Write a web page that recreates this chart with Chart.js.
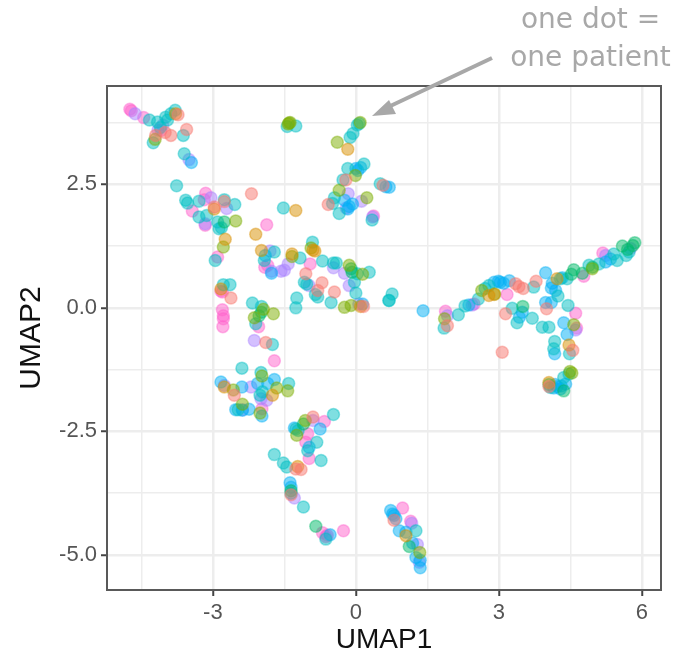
<!DOCTYPE html>
<html>
<head>
<meta charset="utf-8">
<title>UMAP</title>
<script src="https://cdn.jsdelivr.net/npm/chart.js@4"></script>
<style>
    html, body { margin: 0; padding: 0; background: #fff; }
    #wrap { position: relative; width: 679px; height: 657px; overflow: hidden; }
    #note { position: absolute; top: 0; left: 491px; width: 199px; text-align: center; color: #a8a8a8; white-space: nowrap;
            font-family: "DejaVu Sans", sans-serif; font-size: 28px; line-height: 38px; }
    #arrow { position: absolute; left: 0; top: 0; }
</style>
</head>
<body>
<div id="wrap">
    <canvas id="umapChart" width="679" height="657"></canvas>
    <svg id="arrow" width="679" height="657">
        <line x1="492" y1="58" x2="384" y2="109" stroke="#a8a8a8" stroke-width="4"/>
        <polygon points="372,116 389,100 396,114" fill="#a8a8a8"/>
    </svg>
    <div id="note">one dot =<br>one patient</div>
</div>
<script>
// Points are [UMAP1, UMAP2], one list per colour group
const salmonPoints = [[-3.73,3.91],[-3.88,3.49],[-3.55,3.61],[-4.2,3.49],[-4.0,3.55],[-2.97,2.04],[-2.76,2.15],[-2.19,2.31],
    [-1.05,0.69],[-0.71,0.51],[-0.8,0.35],[-0.45,0.32],[-2.62,0.2],[0.16,0.03],[-1.89,-0.7],[-0.21,2.59],[-0.58,2.09],[0.57,2.48],
    [1.92,-0.36],[3.35,0.49],[3.42,0.43],[3.51,0.39],[3.78,0.54],[4,-0.02],[3.14,-0.12],[4.55,-0.86],[3.07,-0.9],[4.05,-1.59],
    [-2.55,-1.77],[-0.9,-2.21],[-1.26,-3.26],[-1.15,-3.27],[-1.36,-3.78],[0.8,-4.3]];
const goldPoints = [[-3.78,3.93],[-2.97,2.0],[-2.74,1.39],[-1.26,1.97],[-2.1,1.49],[-1.98,1.16],[-1.34,1.09],[-0.86,1.15],
    [0.1,0.03],[-2.83,0.38],[-0.17,3.21],[2.79,0.25],[2.9,0.27],[4.22,0.59],[4.47,-0.75],[4.05,-1.51],[-2.76,-1.6],[-1.75,-1.77],
    [-1.22,-3.21],[1.05,-4.61],[-0.9,1.17]];
const olivePoints = [[-1.4,3.74],[-1.42,3.72],[-1.38,3.75],[-4.21,3.41],[-2.52,1.76],[-2.78,1.23],[-0.94,1.21],[-1.34,1.04],
    [-0.14,0.86],[0.14,0.68],[-0.24,0.01],[-0.1,0.05],[-1.94,-0.03],[-1.73,-0.12],[-2.13,-0.2],[-0.39,3.35],[-0.01,2.68],
    [-0.35,2.38],[0.23,2.23],[1.86,-0.22],[2.64,0.35],[2.91,0.28],[4.57,-0.34],[4.49,-1.29],[4.53,-1.32],[4.96,0.79],[-2.57,-1.66],
    [-1.97,-1.38],[-1.66,-1.62],[-1.43,-1.68],[-2.01,-2.13],[-2.38,-1.95],[-1.24,-2.58],[-1.06,-2.28],[1.34,-4.95],[0.09,3.75]];
const greenPoints = [[-2.76,1.74],[-0.1,0.79],[-0.08,0.72],[-2.03,-0.16],[-1.98,-0.09],[3.5,0.03],[4.36,-1.68],[4.05,-1.55],
    [4.57,0.77],[4.52,0.68],[4.75,0.7],[4.96,0.82],[5.59,1.25],[5.85,1.32],[5.81,1.26],[5.7,1.18],[-1.1,-2.35],[-0.84,-4.42],
    [1.12,-4.83],[-1.36,-3.7]];
const tealPoints = [[-4.33,3.8],[-4.25,3.34],[-4.16,3.76],[-3.99,3.86],[-3.88,3.93],[-3.79,4.0],[-3.95,3.8],[-4.1,3.65],
    [-3.62,3.49],[-3.6,3.12],[-3.76,2.47],[-3.57,2.18],[-3.53,2.12],[-3.29,2.16],[-2.76,2.19],[-2.54,2.09],[-3.29,1.84],[-3.13,1.87],
    [-2.9,1.74],[-2.87,1.6],[-2.82,1.62],[-2.95,0.96],[-1.52,2.02],[-1.71,1.13],[-1.92,0.96],[-1.17,1.01],[-0.91,1.33],[-0.7,0.95],
    [-0.47,0.91],[-0.41,0.91],[0.28,0.72],[0.03,0.69],[-1.08,0.52],[-1.03,0.48],[-0.8,0.22],[-0.85,0.27],[-1.24,0.2],[-1.26,0],
    [-0.52,0.11],[-0.03,0.52],[0,0.3],[0.7,0.15],[-2.78,0.47],[-2.64,0.47],[-2.17,0.1],[-1.98,0.03],[-2.1,-0.32],[-1.75,-0.74],
    [-1.44,3.67],[-1.26,3.68],[0.07,3.73],[0.03,3.7],[-0.06,3.53],[-0.12,3.45],[-0.17,2.82],[0.17,2.91],[-0.27,2.59],[-0.45,2.23],
    [-0.49,2.11],[-0.35,1.91],[0.34,1.78],[0.51,2.51],[0.76,0.28],[0.69,0.15],[1.85,-0.41],[2.15,-0.14],[2.29,0.04],[2.57,0.18],
    [2.71,0.39],[2.79,0.45],[3.28,-0.01],[3.38,-0.3],[3.7,-0.21],[3.73,0.42],[3.91,-0.39],[4.05,-0.39],[4.24,0.24],[4.29,0.59],
    [4.45,0.05],[4.17,-0.68],[4.15,-0.83],[4.48,-0.93],[4.47,-1.34],[4.36,-1.41],[4.08,-1.61],[4.43,0.59],[4.89,0.86],[5.1,0.89],
    [5.41,1.09],[5.48,0.96],[5.67,1.06],[5.73,1.13],[-2.39,-1.22],[-1.99,-1.31],[-1.41,-1.53],[-2.01,-1.77],[-1.96,-1.7],[-2.47,-2.06],
    [-0.47,-2.16],[-1.26,-2.45],[-1.21,-2.48],[-0.82,-2.72],[-1.01,-2.89],[-0.73,-3.09],[-1.71,-2.97],[-1.52,-3.14],[-1.45,-3.22],
    [-1.36,-3.75],[-1.1,-4.03],[-0.63,-4.68],[1.26,-4.51]];
const bluePoints = [[-3.45,2.94],[-0.24,2.18],[0,2.82],[0.1,2.84],[0.04,2.78],[-0.14,2.05],[-0.17,2.0],[-0.07,2.1],[0.63,2.45],[0.7,2.44],
    [0.14,0.08],[1.41,-0.06],[2.37,0.06],[2.9,0.52],[2.99,0.54],[3.03,0.52],[3.1,0.5],[3.22,0.55],[3.98,0.71],[4.12,0.5],[4.1,0.4],[4.19,0.35],
    [3.98,0.11],[4.1,0.11],[3.49,-0.09],[3.43,-0.19],[4.36,-0.3],[4.43,-0.54],[4.17,-0.93],[4.4,-1.54],[4.15,-1.62],[4.22,-1.59],[4.29,-1.64],
    [4.18,-1.55],[4.31,-1.58],[4.33,0.61],[5.24,0.93],[5.34,0.99],[-1.9,1.06],[-1.77,0.7],[-2.83,-1.5],[-2.39,-1.6],[-2.06,-1.53],[-1.85,-1.53],
    [-1.71,-1.45],[-2.52,-2.06],[-2.38,-2.07],[-2.24,-2.05],[-1.97,-2.19],[-1.29,-2.43],[-0.75,-2.45],[-0.98,-2.82],[-1.38,-3.54],[-1.36,-3.63],
    [-0.54,-4.59],[0.73,-4.1],[0.77,-4.17],[0.84,-4.27],[0.8,-4.2],[0.91,-4.51],[1.05,-4.54],[1.19,-4.76],[1.26,-5.05],[1.35,-5.11],[1.35,-5.26]];
const violetPoints = [[-4.63,3.93],[-4.05,3.7],[-4.15,3.6],[-3.5,3.0],[-3.04,2.23],[-2.71,2.01],[-3.16,1.7],[-1.8,1.15],[-1.77,0.74],
    [-1.57,0.74],[-1.5,0.76],[-1.42,0.89],[-0.47,0.81],[-0.24,0.7],[-0.98,0.45],[-0.14,0.45],[0.06,0.08],[-2.13,-0.66],[-0.16,2.31],
    [0.12,2.16],[-0.2,2.02],[0.35,1.84],[1.92,-0.16],[2.44,0.06],[4.61,-0.45],[5.24,1.06],[5.76,1.2],[-2.76,-1.57],[-2.2,-1.6],
    [-1.99,-1.84],[-1.87,-1.87],[-2.38,-2.06],[-0.9,-2.28],[-1.29,-3.85],[1.17,-4.36],[1.29,-4.79],[1.33,-5.15]];
const pinkPoints = [[-4.74,4.02],[-4.71,3.99],[-4.45,3.85],[-4.09,3.59],[-3.15,2.32],[-3.18,2.19],[-3.43,1.96],[-3.16,1.67],
    [-2.9,1.03],[-1.87,1.68],[-1.91,0.82],[-1.85,0.86],[-0.96,0.89],[-2.83,0.34],[-2.8,0.32],[-2.8,-0.04],[-2.78,-0.16],[-2.78,-0.22],
    [-2.79,-0.38],[-2.04,-0.38],[0.37,1.86],[1.88,-0.07],[2.48,0.08],[3.17,0.27],[4.61,-0.11],[4.63,-0.41],[4.78,0.64],[5.18,1.11],
    [-1.71,-1.07],[-1.97,-2.04],[-0.66,-2.3],[-1.01,-2.55],[-1.05,-2.72],[-0.98,-3.05],[-0.7,-4.55],[-0.63,-4.63],[-0.6,-4.6],[-0.26,-4.51],
    [0.98,-4.05],[1.15,-4.32]];

const groupColors = ['248,118,109', '216,144,0', '124,174,0', '0,186,106', '0,191,196', '0,176,246', '170,130,255', '255,97,204'];
const groupPoints = [salmonPoints, goldPoints, olivePoints, greenPoints, tealPoints, bluePoints, violetPoints, pinkPoints];

const xTicks = [-4.5, -3, -1.5, 0, 1.5, 3, 4.5, 6];
const xLabelled = [-3, 0, 3, 6];
const yTicks = [-5, -3.75, -2.5, -1.25, 0, 1.25, 2.5, 3.75];
const yLabelled = [-5, -2.5, 0, 2.5];

const datasets = groupPoints.map((points, i) => ({
    data: points.map(p => ({ x: p[0], y: p[1] })),
    backgroundColor: 'rgba(' + groupColors[i] + ',0.5)',
    borderColor: 'rgba(' + groupColors[i] + ',0.42)',
    borderWidth: 1.5,
    pointRadius: 6,
    pointHoverRadius: 6
}));

// Panel frame, drawn over the points like ggplot's panel border
const panelBorder = {
    id: 'panelBorder',
    afterDraw(chart) {
        const a = chart.chartArea;
        chart.ctx.save();
        chart.ctx.strokeStyle = '#595959';
        chart.ctx.lineWidth = 2;
        chart.ctx.strokeRect(a.left, a.top, a.right - a.left, a.bottom - a.top);
        chart.ctx.restore();
    }
};

function axisOptions(title, titleSize, min, max, tickList, labelled, isX) {
    const isMajor = v => labelled.includes(v);
    return {
        type: 'linear',
        min: min,
        max: max,
        afterBuildTicks: axis => { axis.ticks = tickList.map(v => ({ value: v })); },
        afterFit: axis => {
            if (isX) axis.height = 67;
            else axis.width = 93;
        },
        border: { display: false },
        grid: {
            color: '#ededed',
            lineWidth: ctx => isMajor(ctx.tick.value) ? 2.5 : 1.5,
            tickColor: ctx => isMajor(ctx.tick.value) ? '#444444' : 'rgba(0,0,0,0)',
            tickWidth: 2,
            tickLength: 6
        },
        ticks: {
            autoSkip: false,
            maxRotation: 0,
            color: '#555555',
            padding: 4,
            font: { family: '"Liberation Sans", sans-serif', size: 22 },
            callback: v => {
                if (!isMajor(v)) return '';
                return isX ? String(v) : v.toFixed(1);
            }
        },
        title: {
            display: true,
            text: title,
            color: '#111111',
            padding: { top: 0, bottom: 0 },
            font: { family: '"Liberation Sans", sans-serif', size: titleSize }
        }
    };
}

const ctx = document.getElementById('umapChart').getContext('2d');
new Chart(ctx, {
    type: 'scatter',
    data: { datasets: datasets },
    options: {
        responsive: false,
        animation: false,
        layout: { padding: { top: 86, right: 18, left: 14, bottom: 0 } },
        plugins: { legend: { display: false }, tooltip: { enabled: false } },
        scales: {
            x: axisOptions('UMAP1', 28, -5.22, 6.4, xTicks, xLabelled, true),
            y: axisOptions('UMAP2', 30, -5.71, 4.49, yTicks, yLabelled, false)
        }
    },
    plugins: [panelBorder]
});
</script>
</body>
</html>
